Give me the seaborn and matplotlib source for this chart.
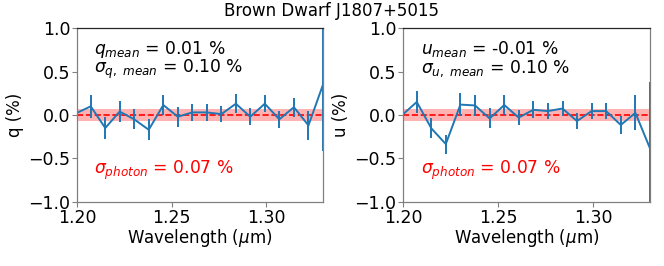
import numpy as np
import pandas as pd
import matplotlib
matplotlib.use("Agg")
import matplotlib.pyplot as plt
import seaborn as sns

wavelength = [1.1994, 1.2071, 1.2148, 1.2224, 1.2301, 1.2378, 1.2455, 1.2532,
              1.2608, 1.2685, 1.2762, 1.2839, 1.2915, 1.2992, 1.3069, 1.3146,
              1.3223, 1.3300]
q_vals = [0.02, 0.10, -0.15, 0.04, -0.05, -0.17, 0.115, -0.02, 0.03, 0.03,
          0.01, 0.13, -0.02, 0.13, -0.05, 0.09, -0.12, 0.35]
q_err = [0.12, 0.13, 0.125, 0.125, 0.115, 0.12, 0.115, 0.115, 0.10, 0.10,
         0.09, 0.11, 0.10, 0.095, 0.10, 0.11, 0.17, 0.76]
u_vals = [0.0, 0.15, -0.155, -0.335, 0.12, 0.11, -0.04, 0.115, -0.03, 0.06,
          0.045, 0.075, -0.07, 0.045, 0.045, -0.115, 0.025, -0.385]
u_err = [0.12, 0.125, 0.115, 0.11, 0.13, 0.12, 0.115, 0.11, 0.09, 0.10,
         0.09, 0.09, 0.09, 0.09, 0.09, 0.10, 0.20, 0.77]
sigma_photon = 0.07
title = "Brown Dwarf J1807+5015"
xticks = [1.20, 1.25, 1.30]
yticks = [-1.0, -0.5, 0.0, 0.5, 1.0]

sns.set_style("ticks")
plt.rcParams['font.family'] = ['DejaVu Sans']
plt.rcParams['mathtext.fontset'] = 'dejavusans'
plt.rcParams['text.color'] = 'black'
plt.rcParams['axes.labelcolor'] = 'black'
plt.rcParams['xtick.labelcolor'] = 'black'
plt.rcParams['ytick.labelcolor'] = 'black'

fig = plt.figure(figsize=(6.64, 2.66), dpi=100)
W, H = 664, 266
axL = fig.add_axes([77.3 / W, 1 - 201.7 / H, (323.0 - 77.3) / W, 173.4 / H])
axR = fig.add_axes([403.3 / W, 1 - 201.7 / H, (650.0 - 403.3) / W, 173.4 / H])

fs_tick = 12.5
fs_lab = 12
fs_ann = 12.3
panels = [
    (axL, q_vals, q_err, "q (%)", r"$q_{mean}$ = 0.01 %", r"$\sigma_{q,\ mean}$ = 0.10 %"),
    (axR, u_vals, u_err, "u (%)", r"$u_{mean}$ = -0.01 %", r"$\sigma_{u,\ mean}$ = 0.10 %"),
]
for ax, vals, errs, ylab, t1, t2 in panels:
    df = pd.DataFrame({"wl": wavelength, "v": vals, "e": errs})
    ax.axhspan(-sigma_photon, sigma_photon, color='red', alpha=0.3, lw=0)
    ax.axhline(0, color='red', ls='--', lw=1.2)
    sns.lineplot(data=df, x="wl", y="v", ax=ax, color='#1f77b4', lw=1.4)
    ax.errorbar(df["wl"], df["v"], yerr=df["e"], fmt='none', ecolor='#1f77b4', elinewidth=1.4)
    ax.set_xlim(1.20, 1.33)
    ax.set_ylim(-1.0, 1.0)
    ax.set_xticks(xticks)
    ax.set_xticklabels([f"{t:.2f}" for t in xticks])
    ax.set_yticks(yticks)
    ax.set_yticklabels(["\u22121.0", "\u22120.5", "0.0", "0.5", "1.0"])
    ax.tick_params(labelsize=fs_tick, length=3.5, width=0.8, color='0.5', pad=1.5)
    ax.set_xlabel(r"Wavelength ($\mu$m)", fontsize=fs_lab, labelpad=0)
    ax.set_ylabel(ylab, fontsize=fs_lab, labelpad=3)
    for s in ['left', 'bottom', 'right']:
        ax.spines[s].set_color('0.5')
    ax.spines['top'].set_color('0.15')
    for s in ax.spines.values():
        s.set_linewidth(0.9)
    ax.text(0.07, 0.85, t1, transform=ax.transAxes, fontsize=fs_ann, va='baseline')
    ax.text(0.07, 0.745, t2, transform=ax.transAxes, fontsize=fs_ann, va='baseline')
    ax.text(0.07, 0.16, r"$\sigma_{photon}$ = 0.07 %", transform=ax.transAxes,
            fontsize=fs_ann, va='baseline', color='red')

fig.text(0.5, 0.96, title, ha='center', va='center', fontsize=12)
fig.savefig("out.png", dpi=100)
